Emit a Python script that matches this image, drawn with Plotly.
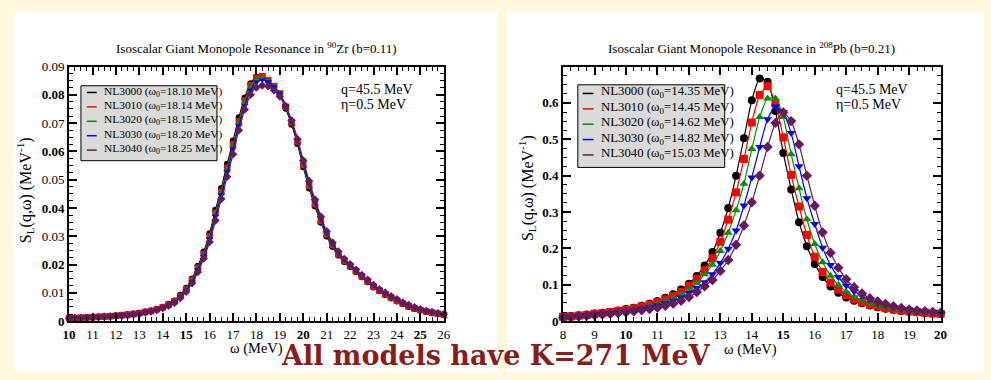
import plotly.graph_objects as go

W, H = 991, 380

# ---------------- data ----------------
models = ["NL3000", "NL3010", "NL3020", "NL3030", "NL3040"]
omega0_zr = ["18.10", "18.14", "18.15", "18.20", "18.25"]
omega0_pb = ["14.35", "14.45", "14.62", "14.82", "15.03"]

omega_zr = [10.0, 10.25, 10.5, 10.75, 11.0, 11.25, 11.5, 11.75, 12.0, 12.25, 12.5, 12.75,
            13.0, 13.25, 13.5, 13.75, 14.0, 14.25, 14.5, 14.75, 15.0, 15.25, 15.5, 15.75,
            16.0, 16.25, 16.5, 16.75, 17.0, 17.25, 17.5, 17.75, 18.0, 18.25, 18.5, 18.75,
            19.0, 19.25, 19.5, 19.75, 20.0, 20.25, 20.5, 20.75, 21.0, 21.25, 21.5, 21.75,
            22.0, 22.25, 22.5, 22.75, 23.0, 23.25, 23.5, 23.75, 24.0, 24.25, 24.5, 24.75,
            25.0, 25.25, 25.5, 25.75, 26.0]

zr_nl3000 = [.0010, .0011, .0012, .0013, .0014, .0015, .0016, .0018, .0019, .0021, .0023, .0026,
             .0029, .0033, .0037, .0043, .0050, .0060, .0072, .0092, .0117, .0150, .0195, .0245,
             .0310, .0393, .0470, .0555, .0638, .0720, .0790, .0840, .0864, .0865, .0850, .0828,
             .0800, .0752, .0695, .0627, .0545, .0470, .0406, .0349, .0300, .0263, .0233, .0210,
             .0192, .0174, .0156, .0138, .0120, .0106, .0093, .0081, .0070, .0060, .0051, .0044,
             .0038, .0033, .0029, .0025, .0022]
zr_nl3010 = [.0010, .0011, .0012, .0013, .0014, .0015, .0016, .0017, .0019, .0021, .0023, .0025,
             .0028, .0032, .0036, .0042, .0049, .0058, .0070, .0089, .0113, .0146, .0189, .0238,
             .0301, .0383, .0458, .0542, .0625, .0707, .0780, .0834, .0861, .0866, .0852, .0831,
             .0805, .0758, .0702, .0635, .0553, .0478, .0413, .0355, .0306, .0268, .0237, .0213,
             .0195, .0176, .0158, .0141, .0122, .0108, .0095, .0083, .0072, .0062, .0053, .0045,
             .0039, .0034, .0030, .0026, .0022]
zr_nl3020 = [.0010, .0011, .0012, .0013, .0014, .0015, .0016, .0017, .0019, .0021, .0023, .0025,
             .0028, .0032, .0036, .0042, .0049, .0058, .0069, .0088, .0112, .0144, .0187, .0236,
             .0298, .0380, .0455, .0538, .0620, .0702, .0774, .0828, .0855, .0860, .0850, .0830,
             .0805, .0760, .0705, .0638, .0556, .0481, .0416, .0358, .0308, .0270, .0239, .0215,
             .0196, .0177, .0159, .0142, .0123, .0109, .0096, .0084, .0073, .0063, .0054, .0046,
             .0040, .0035, .0030, .0026, .0023]
zr_nl3030 = [.0010, .0011, .0012, .0013, .0014, .0015, .0016, .0017, .0018, .0020, .0022, .0024,
             .0027, .0031, .0035, .0040, .0047, .0056, .0067, .0085, .0108, .0139, .0181, .0229,
             .0290, .0370, .0445, .0527, .0608, .0690, .0762, .0817, .0845, .0853, .0846, .0828,
             .0804, .0762, .0708, .0642, .0562, .0488, .0422, .0363, .0312, .0273, .0242, .0217,
             .0198, .0179, .0161, .0144, .0125, .0111, .0098, .0086, .0075, .0064, .0055, .0047,
             .0041, .0035, .0031, .0027, .0023]
zr_nl3040 = [.0010, .0011, .0011, .0012, .0013, .0014, .0015, .0016, .0018, .0019, .0021, .0023,
             .0026, .0030, .0034, .0039, .0046, .0054, .0065, .0082, .0104, .0134, .0174, .0221,
             .0280, .0356, .0432, .0510, .0590, .0675, .0748, .0800, .0826, .0833, .0830, .0816,
             .0794, .0760, .0709, .0644, .0568, .0495, .0430, .0370, .0318, .0278, .0246, .0220,
             .0201, .0182, .0163, .0146, .0128, .0113, .0100, .0088, .0077, .0066, .0057, .0049,
             .0042, .0036, .0032, .0028, .0024]

omega_pb = [8.0, 8.25, 8.5, 8.75, 9.0, 9.25, 9.5, 9.75, 10.0, 10.25, 10.5, 10.75,
            11.0, 11.25, 11.5, 11.75, 12.0, 12.25, 12.5, 12.75, 13.0, 13.25, 13.5, 13.75,
            14.0, 14.25, 14.5, 14.75, 15.0, 15.25, 15.5, 15.75, 16.0, 16.25, 16.5, 16.75,
            17.0, 17.25, 17.5, 17.75, 18.0, 18.25, 18.5, 18.75, 19.0, 19.25, 19.5, 19.75, 20.0]

pb_nl3000 = [.012, .014, .016, .018, .021, .023, .026, .029, .033, .037, .042, .048,
             .055, .064, .074, .087, .103, .124, .153, .190, .243, .311, .400, .503,
             .607, .667, .658, .578, .462, .362, .272, .206, .157, .121, .095, .078,
             .065, .056, .049, .043, .038, .034, .031, .028, .026, .024, .022, .021, .020]
pb_nl3010 = [.012, .013, .015, .017, .020, .022, .025, .028, .031, .035, .040, .045,
             .052, .060, .069, .081, .097, .116, .140, .173, .218, .279, .354, .446,
             .546, .622, .646, .598, .505, .402, .315, .237, .177, .135, .106, .086,
             .071, .060, .052, .045, .040, .036, .032, .029, .027, .025, .023, .021, .020]
pb_nl3020 = [.011, .013, .015, .017, .019, .021, .024, .027, .030, .033, .037, .042,
             .048, .055, .063, .073, .086, .104, .129, .155, .193, .243, .305, .378,
             .473, .561, .612, .612, .561, .459, .365, .280, .212, .162, .125, .099,
             .081, .067, .057, .049, .043, .038, .034, .031, .028, .026, .024, .022, .021]
pb_nl3030 = [.011, .012, .014, .016, .018, .020, .022, .025, .027, .030, .034, .038,
             .043, .049, .056, .065, .077, .091, .107, .129, .160, .199, .249, .318,
             .395, .479, .555, .590, .574, .517, .426, .338, .267, .202, .154, .121,
             .098, .082, .069, .058, .050, .044, .039, .034, .031, .028, .026, .024, .022]
pb_nl3040 = [.010, .011, .013, .014, .016, .018, .020, .022, .024, .027, .030, .033,
             .037, .042, .048, .056, .066, .080, .096, .113, .138, .168, .210, .263,
             .327, .400, .479, .545, .574, .550, .486, .400, .317, .244, .188, .147,
             .115, .093, .076, .063, .054, .047, .041, .036, .032, .029, .027, .025, .023]

zr_series = [zr_nl3000, zr_nl3010, zr_nl3020, zr_nl3030, zr_nl3040]
pb_series = [pb_nl3000, pb_nl3010, pb_nl3020, pb_nl3030, pb_nl3040]

zr_xticks = list(range(10, 27))
zr_yticks = [0, 0.01, 0.02, 0.03, 0.04, 0.05, 0.06, 0.07, 0.08, 0.09]
zr_ytext = ["<b>0</b>", "0.01", "<b>0.02</b>", "0.03", "<b>0.04</b>", "0.05", "<b>0.06</b>",
            "0.07", "<b>0.08</b>", "0.09"]
zr_xtext = [f"<b>{v}</b>" if v % 5 == 0 else str(v) for v in zr_xticks]
pb_xticks = list(range(8, 21))
pb_xtext = [f"<b>{v}</b>" if v % 5 == 0 else str(v) for v in pb_xticks]
pb_yticks = [0, 0.1, 0.2, 0.3, 0.4, 0.5, 0.6]
pb_ytext = ["<b>0</b>", "<b>0.1</b>", "<b>0.2</b>", "<b>0.3</b>", "<b>0.4</b>", "<b>0.5</b>", "<b>0.6</b>"]

# ---------------- style ----------------
colors = ["#000000", "#ff0000", "#009000", "#0000ff", "#661a5c"]
symbols = ["circle", "square", "triangle-up", "triangle-down", "diamond"]
SERIF = "Liberation Serif"


def px(x):
    return x / W


def py(y):
    return 1 - y / H


fig = go.Figure()

for i in range(5):
    fig.add_trace(go.Scatter(
        x=omega_zr, y=zr_series[i], mode="lines+markers", xaxis="x", yaxis="y",
        line=dict(color=colors[i], width=1.2, shape="spline", smoothing=0.6),
        marker=dict(symbol=symbols[i], size=6.5, color=colors[i], line=dict(width=0)),
        showlegend=False, cliponaxis=False, name=models[i]))
for i in range(5):
    fig.add_trace(go.Scatter(
        x=omega_pb, y=pb_series[i], mode="lines+markers", xaxis="x2", yaxis="y2",
        line=dict(color=colors[i], width=1.2, shape="spline", smoothing=0.6),
        marker=dict(symbol=symbols[i], size=8, color=colors[i], line=dict(width=0)),
        showlegend=False, cliponaxis=False, name=models[i]))


def axis(domain, rng, tickvals, ticktext, minor_dtick, anchor):
    return dict(
        domain=domain, range=rng, anchor=anchor, autorange=False,
        showline=True, linecolor="black", linewidth=2, mirror="ticks",
        ticks="inside", ticklen=8, tickwidth=1.5, tickcolor="black",
        tickmode="array", tickvals=tickvals, ticktext=ticktext,
        tickfont=dict(family=SERIF, size=13, color="black"),
        showgrid=False, zeroline=False,
        minor=dict(ticks="inside", ticklen=4, tickwidth=1, tickcolor="black",
                   tickmode="linear", tick0=0, dtick=minor_dtick, showgrid=False),
    )


y0d, y1d = py(327), py(62)
fig.update_layout(
    width=W, height=H, margin=dict(l=0, r=0, t=0, b=0),
    paper_bgcolor="#fff8dc", plot_bgcolor="#ffff00",
    xaxis=axis([px(63), px(443)], [10, 26], zr_xticks, zr_xtext, 0.25, "y"),
    yaxis=axis([y0d, y1d], [0, 0.09], zr_yticks, zr_ytext, 0.0025, "x"),
    xaxis2=axis([px(564), px(947)], [8, 20], pb_xticks, pb_xtext, 0.25, "y2"),
    yaxis2=axis([y0d, y1d], [0, 0.70], pb_yticks, pb_ytext, 0.025, "x2"),
)

shapes = [
    dict(type="rect", xref="paper", yref="paper", x0=px(6), x1=px(497), y0=0, y1=py(5),
         fillcolor="white", line=dict(width=0), layer="below"),
    dict(type="rect", xref="paper", yref="paper", x0=px(507), x1=1, y0=0, y1=py(5),
         fillcolor="white", line=dict(width=0), layer="below"),
]
annotations = []


def ann(text, x, y, size=13, xanchor="center", yanchor="middle", family=SERIF,
        color="black", angle=0, **kw):
    annotations.append(dict(text=text, x=px(x), y=py(y), xref="paper", yref="paper",
                            xanchor=xanchor, yanchor=yanchor, showarrow=False,
                            textangle=angle, borderpad=0,
                            font=dict(family=family, size=size, color=color), **kw))


# legend boxes
def legend(x0, x1, y0, y1, rows, sw0, sw1, tx, size, omega0s):
    shapes.append(dict(type="rect", xref="paper", yref="paper", x0=px(x0), x1=px(x1),
                       y0=py(y1), y1=py(y0), fillcolor="#dadada",
                       line=dict(color="black", width=1), layer="above"))
    for i in range(5):
        shapes.append(dict(type="line", xref="paper", yref="paper", x0=px(sw0), x1=px(sw1),
                           y0=py(rows[i]), y1=py(rows[i]),
                           line=dict(color=colors[i], width=1.5), layer="above"))
        ann(f"{models[i]} (ω<sub>0</sub>={omega0s[i]} MeV)", tx, rows[i] - 1, size=size,
            xanchor="left")


legend(75, 213, 82, 160, [89, 104, 119, 134, 149], 81, 91, 97, 11.4, omega0_zr)
legend(579, 728, 81, 167, [90, 106, 122, 138, 154], 584, 595, 601, 12.8, omega0_pb)

# titles
ann("Isoscalar Giant Monopole Resonance in <sup>90</sup>Zr (b=0.11)", 253, 43, size=13)
ann("Isoscalar Giant Monopole Resonance in <sup>208</sup>Pb (b=0.21)", 755, 43, size=13)

# parameter notes
for xl in (338, 840):
    ann("q=45.5 MeV", xl, 86, size=14, xanchor="left")
    ann("η=0.5 MeV", xl, 101, size=14, xanchor="left")

# axis titles
ytitle = "S<sub>L</sub>(q,ω) (MeV<sup>-1</sup>)"
ann(ytitle, 19, 191, size=16, angle=-90)
ann(ytitle, 527, 189, size=16, angle=-90)
ann("ω (MeV)", 253, 356, size=14.5)
ann("ω (MeV)", 754, 357, size=14.5)

# bottom statement
ann("<b>All models have K=271 MeV</b>", 496, 363, size=27, family="DejaVu Serif",
    color="#8b1c1c")

fig.update_layout(shapes=shapes, annotations=annotations)
fig.write_html("out.html", config={"displayModeBar": False},
               post_script="document.body.style.margin='0px';"
                           "document.body.style.background='#fff8dc';")
